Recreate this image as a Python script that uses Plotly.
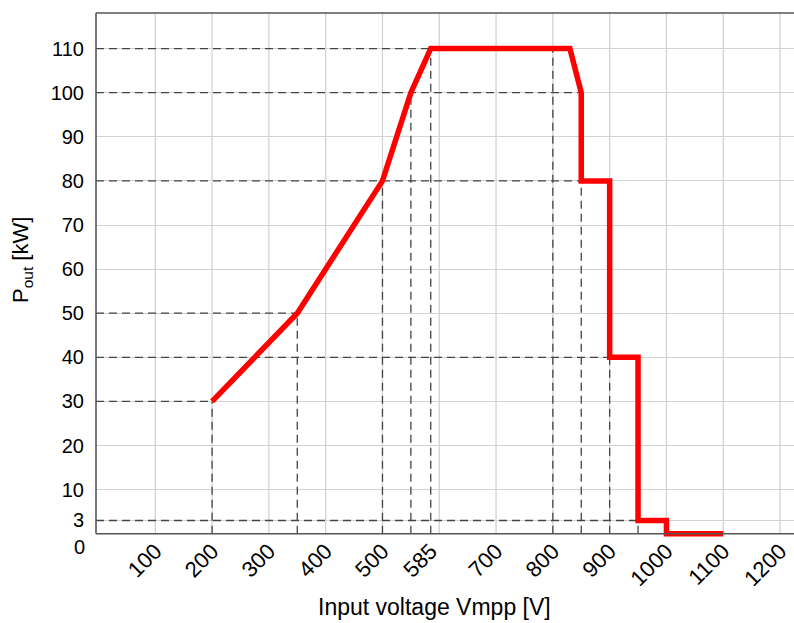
import plotly.graph_objects as go

# Data: output power curve vs input voltage
volt = [200, 350, 500, 550, 585, 830, 850, 850, 900, 900, 950, 950, 1000, 1000, 1100]
power = [30, 50, 80, 100, 110, 110, 100, 80, 80, 40, 40, 3, 3, 0, 0]

# Reference (dashed) guide lines
h_ref_levels = [110, 100, 80, 50, 40, 30, 3]
h_ref_ends = [585, 850, 850, 350, 900, 200, 950]
v_ref_volts = [200, 350, 500, 550, 585, 800, 850, 900, 950]
v_ref_tops = [30, 50, 80, 100, 110, 110, 80, 40, 3]

# Axis ticks
x_tickvals = [100, 200, 300, 400, 500, 585, 700, 800, 900, 1000, 1100, 1200]
x_ticktext = ["100", "200", "300", "400", "500", "585", "700", "800", "900", "1000", "1100", "1200"]
x_gridvals = [100, 200, 300, 400, 500, 600, 700, 800, 900, 1000, 1100, 1200]
y_tickvals = [3, 10, 20, 30, 40, 50, 60, 70, 80, 90, 100, 110]
y_ticktext = ["3", "10", "20", "30", "40", "50", "60", "70", "80", "90", "100", "110"]

X_RANGE = [-4.4, 1224.6]
Y_RANGE = [-1.2, 118.07]

FONT = "Liberation Sans, Arial, sans-serif"
GRID = "#d2d2d2"
AXIS = "#555555"
DASH = "#444444"

fig = go.Figure()
fig.add_trace(go.Scatter(
    x=volt, y=power, mode="lines",
    line=dict(color="#ff0000", width=5.5),
    hoverinfo="skip", showlegend=False,
))

shapes = []
# vertical gridlines (stop at y=0)
for gv in x_gridvals:
    shapes.append(dict(type="line", xref="x", yref="y", x0=gv, x1=gv,
                       y0=0, y1=Y_RANGE[1], layer="below",
                       line=dict(color=GRID, width=1.3)))
# dashed horizontal guides
for lv, xe in zip(h_ref_levels, h_ref_ends):
    shapes.append(dict(type="line", xref="x", yref="y", x0=X_RANGE[0], x1=xe,
                       y0=lv, y1=lv, layer="between",
                       line=dict(color=DASH, width=1.3, dash="8px,5px")))
# dashed vertical guides
for vv, top in zip(v_ref_volts, v_ref_tops):
    shapes.append(dict(type="line", xref="x", yref="y", x0=vv, x1=vv,
                       y0=0, y1=top, layer="between",
                       line=dict(color=DASH, width=1.3, dash="8px,5px")))
# borders: bottom axis at y=0, left axis, top border
shapes.append(dict(type="line", xref="paper", yref="y", x0=0, x1=1, y0=0, y1=0,
                   layer="above", line=dict(color=AXIS, width=1.6)))
shapes.append(dict(type="line", xref="paper", yref="y", x0=0, x1=0, y0=0, y1=Y_RANGE[1],
                   layer="above", line=dict(color=AXIS, width=1.6)))
shapes.append(dict(type="line", xref="paper", yref="paper", x0=0, x1=1, y0=1, y1=1,
                   layer="above", line=dict(color=AXIS, width=1.6)))

annotations = [
    dict(text="Input voltage Vmpp [V]", xref="paper", yref="paper",
         x=0.485, y=-0.13, xanchor="center", yanchor="middle", showarrow=False,
         font=dict(family=FONT, size=23, color="black")),
    dict(text="P<sub>out</sub> [kW]", xref="paper", yref="paper",
         x=-0.105, y=0.53, xanchor="center", yanchor="middle", showarrow=False,
         textangle=-90, font=dict(family=FONT, size=22, color="black")),
    dict(text="0", xref="paper", yref="y", x=0, y=0, xanchor="right", yanchor="middle",
         xshift=-9, yshift=-13, showarrow=False,
         font=dict(family=FONT, size=20, color="black")),
]

fig.update_layout(
    width=794, height=623,
    margin=dict(l=96, r=0, t=13, b=84, pad=0),
    paper_bgcolor="white", plot_bgcolor="white",
    font=dict(family=FONT, size=20, color="black"),
    shapes=shapes, annotations=annotations,
    xaxis=dict(range=X_RANGE, tickmode="array", tickvals=x_tickvals, ticktext=x_ticktext,
               tickangle=-45, showgrid=False, zeroline=False, showline=False,
               ticks="", ticklen=0, ticklabelstandoff=-6,
               tickfont=dict(family=FONT, size=22, color="black")),
    yaxis=dict(range=Y_RANGE, tickmode="array", tickvals=y_tickvals, ticktext=y_ticktext,
               showgrid=True, gridcolor=GRID, gridwidth=1.3, zeroline=False, showline=False,
               ticks="outside", ticklen=7, tickcolor="rgba(0,0,0,0)",
               tickfont=dict(family=FONT, size=20, color="black")),
)

fig.write_html("out.html", config={"displayModeBar": False},
               post_script="document.body.style.margin='0';")
